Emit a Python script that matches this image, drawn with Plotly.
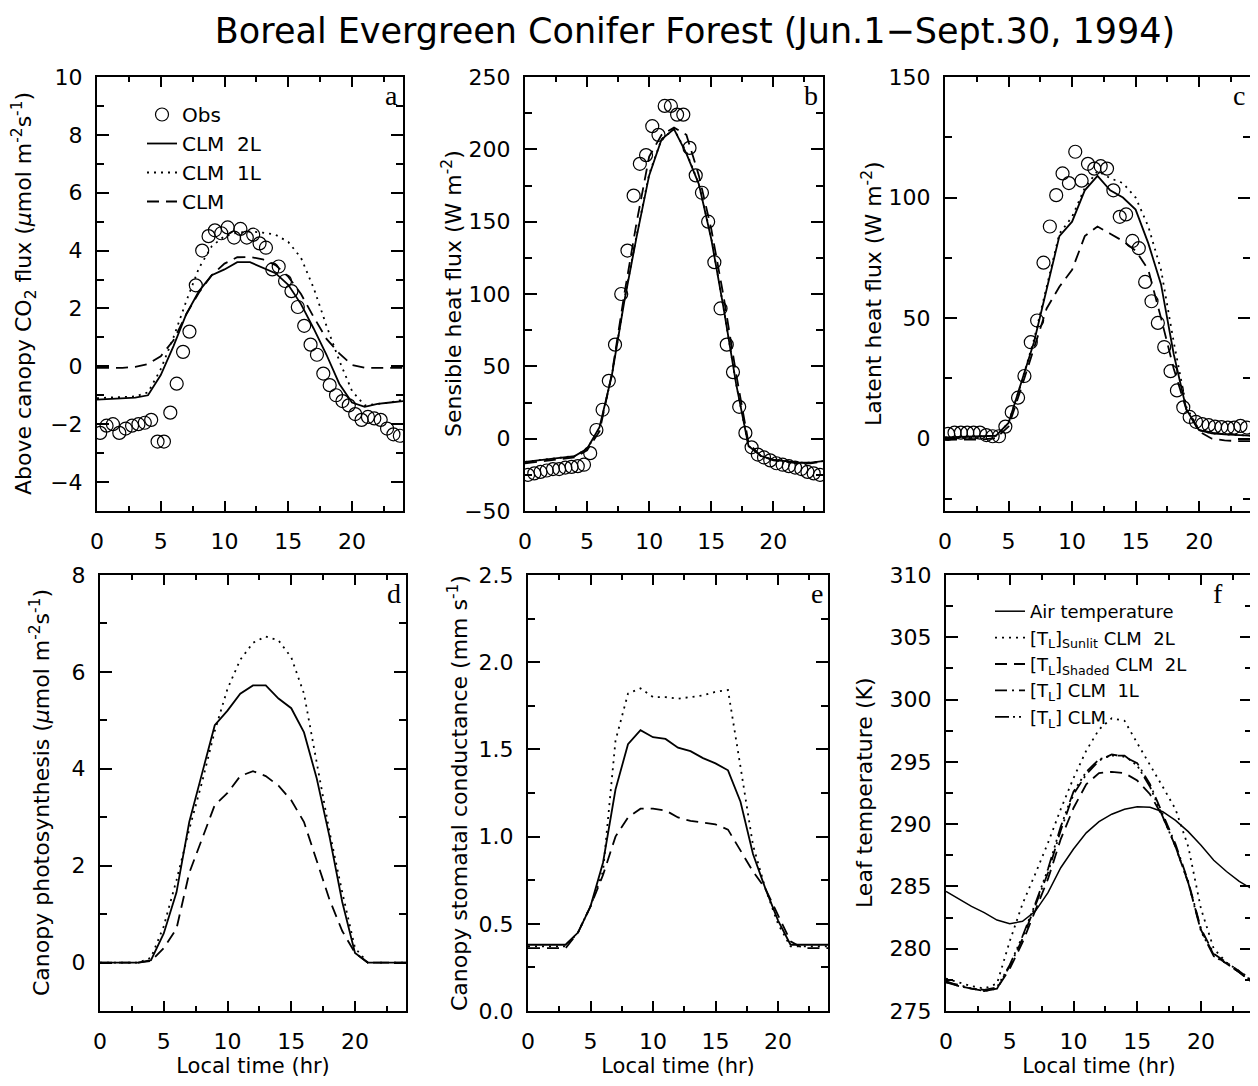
import plotly.graph_objects as go

# ---------------- data ----------------
HOURS = [0, 1, 2, 3, 4, 5, 6, 7, 8, 9, 10, 11, 12, 13, 14, 15, 16, 17, 18, 19, 20, 21, 22, 23, 24]
OBS_TIME = [0.25, 0.75, 1.25, 1.75, 2.25, 2.75, 3.25, 3.75, 4.25, 4.75, 5.25, 5.75,
            6.25, 6.75, 7.25, 7.75, 8.25, 8.75, 9.25, 9.75, 10.25, 10.75, 11.25, 11.75,
            12.25, 12.75, 13.25, 13.75, 14.25, 14.75, 15.25, 15.75, 16.25, 16.75, 17.25, 17.75,
            18.25, 18.75, 19.25, 19.75, 20.25, 20.75, 21.25, 21.75, 22.25, 22.75, 23.25, 23.75]

# (a) above canopy CO2 flux
co2_obs = [-2.3, -2.05, -2.0, -2.3, -2.15, -2.05, -2.0, -1.95, -1.85, -2.6, -2.6, -1.6,
           -0.6, 0.5, 1.2, 2.8, 4.0, 4.5, 4.7, 4.6, 4.8, 4.45, 4.75, 4.45,
           4.55, 4.25, 4.1, 3.35, 3.45, 2.95, 2.6, 2.05, 1.4, 0.75, 0.4, -0.25,
           -0.65, -1.0, -1.2, -1.35, -1.65, -1.85, -1.75, -1.8, -1.85, -2.15, -2.35, -2.4]
co2_clm2l = [-1.15, -1.12, -1.1, -1.08, -1.0, -0.3, 0.7, 1.8, 2.6, 3.15, 3.35, 3.6, 3.6,
             3.42, 3.22, 2.82, 2.15, 1.3, 0.4, -0.6, -1.25, -1.4, -1.3, -1.25, -1.2]
co2_clm1l = [-1.1, -1.08, -1.06, -1.04, -0.9, -0.1, 1.0, 2.25, 3.4, 4.15, 4.5, 4.62, 4.66,
             4.62, 4.55, 4.3, 3.75, 2.7, 1.4, 0.2, -0.85, -1.35, -1.3, -1.25, -1.15]
co2_clm = [-0.05, -0.05, -0.05, -0.02, 0.08, 0.35, 0.9, 1.8, 2.55, 3.15, 3.55, 3.77, 3.78,
           3.7, 3.5, 3.1, 2.5, 1.7, 0.95, 0.45, 0.05, -0.05, -0.05, -0.05, -0.05]

# (b) sensible heat flux
sh_obs = [-25, -24, -23, -22, -21, -21, -20, -19.5, -19, -18, -10, 6,
          20, 40, 65, 100, 130, 168, 190, 196, 216, 210, 230, 230,
          224, 224, 201, 182, 170, 150, 122, 90, 65, 46, 22, 4,
          -6, -11, -13, -15, -17, -18, -19, -20, -21, -23, -24, -25]
sh_clm2l = [-16, -15, -14, -13, -12, -7, 8, 44, 95, 140, 182, 207, 214,
            197, 176, 138, 90, 38, -5, -12, -14.5, -15.5, -16.5, -16.5, -15.5]
sh_clm1l = [-16, -15, -14, -13, -12, -7, 7, 44, 96, 141, 183, 207, 214,
            198, 176, 139, 90, 38, -5, -12, -14.5, -15.5, -16.5, -16.5, -15.5]
sh_clm = [-17, -16, -15, -14, -13, -8, 5, 45, 100, 150, 195, 210, 215,
          210, 182, 145, 98, 45, -3, -12, -15, -16, -17, -17, -16]

# (c) latent heat flux
lh_obs = [2, 2.5, 2.5, 2.5, 2.5, 2.5, 1.5, 1, 1, 5, 11, 17,
          26, 40, 49, 73, 88, 101, 110, 106, 119, 107, 114, 112,
          113, 112, 103, 92, 93, 82, 79, 65, 57, 48, 38, 28,
          20, 13, 9, 7, 6, 5.6, 5, 4.8, 4.6, 4.6, 5.3, 4.6]
lh_clm2l = [0.5, 0.7, 0.8, 0.9, 1.2, 6.5, 23, 40, 62, 84, 90, 103, 109,
            103, 100, 95, 81, 64, 35, 12, 3.5, 2.2, 1.8, 1.5, 1.3]
lh_clm1l = [0.5, 0.7, 0.8, 0.9, 1.2, 6.5, 23, 41, 63, 85, 92, 104, 111,
            108, 106, 100, 88, 70, 40, 13, 3.5, 2.2, 1.8, 1.5, 1.3]
lh_clm = [-0.5, -0.5, -0.5, -0.3, 0.2, 5, 21, 38, 54, 63, 70, 84, 88,
          85, 82, 78, 70, 50, 29, 12, 3, 0, -0.7, -1, -1]

# (d) canopy photosynthesis
ps_clm2l = [0, 0, 0, 0, 0.05, 0.6, 1.45, 2.9, 3.9, 4.9, 5.2, 5.55, 5.72,
            5.72, 5.45, 5.25, 4.75, 3.8, 2.6, 1.25, 0.2, 0, 0, 0, 0]
ps_clm1l = [0, 0, 0, 0, 0.1, 0.75, 1.7, 2.75, 3.72, 4.78, 5.65, 6.25, 6.6,
            6.73, 6.65, 6.3, 5.55, 4.15, 2.7, 1.45, 0.3, 0, 0, 0, 0]
ps_clm = [0, 0, 0, 0, 0.03, 0.3, 0.7, 1.85, 2.55, 3.25, 3.5, 3.85, 3.95,
          3.85, 3.65, 3.35, 2.9, 2.1, 1.3, 0.65, 0.2, 0, 0, 0, 0]

# (e) canopy stomatal conductance
gs_clm2l = [0.38, 0.38, 0.38, 0.38, 0.45, 0.6, 0.85, 1.27, 1.53, 1.61, 1.57, 1.56, 1.51,
            1.49, 1.45, 1.42, 1.38, 1.2, 0.9, 0.7, 0.52, 0.38, 0.38, 0.38, 0.38]
gs_clm1l = [0.37, 0.37, 0.37, 0.37, 0.45, 0.6, 0.8, 1.55, 1.82, 1.85, 1.8, 1.8, 1.79,
            1.8, 1.81, 1.83, 1.84, 1.4, 0.95, 0.7, 0.5, 0.37, 0.37, 0.37, 0.37]
gs_clm = [0.36, 0.36, 0.36, 0.36, 0.45, 0.6, 0.78, 1.0, 1.11, 1.16, 1.16, 1.15, 1.11,
          1.09, 1.08, 1.07, 1.04, 0.92, 0.8, 0.7, 0.55, 0.4, 0.36, 0.36, 0.36]

# (f) leaf / air temperature
t_air = [284.6, 284.0, 283.4, 282.9, 282.3, 282.0, 282.2, 283.0, 284.5, 286.5, 288.0, 289.3, 290.2,
         290.8, 291.2, 291.4, 291.35, 291.0, 290.3, 289.4, 288.3, 287.1, 286.2, 285.4, 284.8]
t_sunlit = [277.6, 277.3, 277.0, 276.8, 277.2, 280.6, 283.6, 286.0, 288.5, 291.2, 293.7, 295.9, 297.6,
            298.5, 298.3, 296.5, 294.8, 293.0, 291.2, 288.2, 283.2, 280.0, 278.9, 278.2, 277.5]
t_shaded = [277.3, 277.0, 276.8, 276.6, 276.8, 278.4, 280.5, 283.0, 285.6, 288.8, 291.3, 293.2, 294.1,
            294.2, 294.1, 293.5, 292.4, 290.6, 288.2, 285.3, 281.5, 279.5, 278.8, 278.1, 277.3]
t_clm1l = [277.3, 277.1, 276.8, 276.6, 276.8, 278.6, 280.8, 283.4, 286.1, 289.5, 292.4, 294.0, 295.1,
           295.6, 295.4, 294.9, 293.2, 290.8, 288.4, 285.4, 281.6, 279.6, 278.9, 278.2, 277.4]
t_clm = [277.4, 277.0, 276.8, 276.7, 276.9, 278.7, 281.0, 283.6, 286.4, 289.8, 292.6, 294.2, 295.2,
         295.5, 295.5, 294.7, 293.0, 290.6, 288.2, 285.3, 281.4, 279.4, 278.8, 278.1, 277.3]

# ---------------- layout geometry (pixels of the page) ----------------
OFF = 8                      # page margin around the figure
W, H = 1258 - OFF, 1086 - OFF
FONT = "DejaVu Sans"


def fx(px):
    return (px - OFF) / W


def fy(py):
    return 1 - (py - OFF) / H


px_x = {1: (97, 403), 2: (525, 823), 3: (945, 1250), 4: (100, 406), 5: (528, 828), 6: (946, 1252)}
px_y = {1: (77, 511), 2: (77, 511), 3: (77, 511), 4: (575, 1011), 5: (575, 1011), 6: (575, 1011)}
ytitle_x = {1: 24, 2: 452, 3: 872, 4: 40, 5: 458, 6: 864}

DOT = "2px,5px"
DASH = "12px,7px"
DASHDOT = "12px,5px,2px,5px"
DASH3DOT = "14px,4px,2px,4px,2px,4px,2px,4px"

fig = go.Figure()


def line(i, y, dash, name=None, legend=None, width=1.8):
    fig.add_trace(go.Scatter(
        x=HOURS, y=y, mode="lines", name=name,
        line=dict(color="black", width=width, dash=dash),
        xaxis="x" if i == 1 else f"x{i}", yaxis="y" if i == 1 else f"y{i}",
        showlegend=name is not None, legend=legend, hoverinfo="skip"))


def obs(i, y, name=None, legend=None):
    fig.add_trace(go.Scatter(
        x=OBS_TIME, y=y, mode="markers", name=name,
        marker=dict(symbol="circle-open", size=13, color="black", line=dict(width=1.2, color="black")),
        xaxis="x" if i == 1 else f"x{i}", yaxis="y" if i == 1 else f"y{i}",
        showlegend=name is not None, legend=legend, hoverinfo="skip"))


# panel a (with legend)
obs(1, co2_obs, "Obs", "legend")
line(1, co2_clm2l, "solid", "CLM  2L", "legend")
line(1, co2_clm1l, DOT, "CLM  1L", "legend")
line(1, co2_clm, DASH, "CLM", "legend")
# panel b
obs(2, sh_obs)
line(2, sh_clm1l, DOT)
line(2, sh_clm, DASH)
line(2, sh_clm2l, "solid")
# panel c
obs(3, lh_obs)
line(3, lh_clm1l, DOT)
line(3, lh_clm, DASH)
line(3, lh_clm2l, "solid")
# panel d
line(4, ps_clm2l, "solid")
line(4, ps_clm1l, DOT)
line(4, ps_clm, DASH)
# panel e
line(5, gs_clm2l, "solid")
line(5, gs_clm1l, DOT)
line(5, gs_clm, DASH)
# panel f (with legend)
line(6, t_air, "solid", "Air temperature", "legend2", width=1.5)
line(6, t_sunlit, DOT, "[T<sub>L</sub>]<sub>Sunlit</sub> CLM  2L", "legend2")
line(6, t_shaded, DASH, "[T<sub>L</sub>]<sub>Shaded</sub> CLM  2L", "legend2")
line(6, t_clm1l, DASHDOT, "[T<sub>L</sub>] CLM  1L", "legend2")
line(6, t_clm, DASH3DOT, "[T<sub>L</sub>] CLM", "legend2")

y_titles = {
    1: "Above canopy CO<sub>2</sub> flux (<i>μ</i>mol m<sup>-2</sup>s<sup>-1</sup>)",
    2: "Sensible heat flux (W m<sup>-2</sup>)",
    3: "Latent heat flux (W m<sup>-2</sup>)",
    4: "Canopy photosynthesis (<i>μ</i>mol m<sup>-2</sup>s<sup>-1</sup>)",
    5: "Canopy stomatal conductance (mm s<sup>-1</sup>)",
    6: "Leaf temperature (K)",
}
y_ranges = {1: [-5, 10], 2: [-50, 250], 3: [-30, 150], 4: [-1, 8], 5: [0, 2.5], 6: [275, 310]}
y_dtick = {1: 2, 2: 50, 3: 50, 4: 2, 5: 0.5, 6: 5}
y_minor = {1: 1, 2: 25, 3: 25, 4: 1, 5: 0.25, 6: 2.5}
letters = {1: "a", 2: "b", 3: "c", 4: "d", 5: "e", 6: "f"}

tickfont = dict(family=FONT, size=22, color="black")
layout = dict(
    width=W, height=H,
    margin=dict(l=0, r=0, t=0, b=0, autoexpand=False),
    paper_bgcolor="white", plot_bgcolor="white",
    font=dict(family=FONT, size=22, color="black"),
    title=dict(text="Boreal Evergreen Conifer Forest (Jun.1−Sept.30, 1994)",
               x=fx(695), y=fy(31), xanchor="center", yanchor="middle",
               font=dict(family=FONT, size=35, color="black")),
    legend=dict(x=fx(142), y=fy(95), xanchor="left", yanchor="top",
                bgcolor="rgba(0,0,0,0)", font=dict(family=FONT, size=20),
                tracegroupgap=0, itemwidth=30),
    legend2=dict(x=fx(990), y=fy(593), xanchor="left", yanchor="top",
                 bgcolor="rgba(0,0,0,0)", font=dict(family=FONT, size=18),
                 tracegroupgap=0, itemwidth=30),
    annotations=[],
)

for i in range(1, 7):
    xs = "xaxis" if i == 1 else f"xaxis{i}"
    ys = "yaxis" if i == 1 else f"yaxis{i}"
    xa = "x" if i == 1 else f"x{i}"
    ya = "y" if i == 1 else f"y{i}"
    x0, x1 = px_x[i]
    yt, yb = px_y[i]
    xaxis = dict(
        domain=[fx(x0), fx(x1)], anchor=ya, range=[0, 24], automargin=False,
        tick0=0, dtick=5, ticks="inside", ticklen=10, tickwidth=1.5, tickcolor="black",
        minor=dict(dtick=2.5, tick0=0, ticks="inside", ticklen=5, tickwidth=1.5, tickcolor="black"),
        showline=True, linewidth=2, linecolor="black", mirror="ticks",
        showgrid=False, zeroline=False, tickfont=tickfont, ticklabelstandoff=10,
    )
    if i >= 4:
        xaxis["title"] = dict(text="Local time (hr)", font=dict(family=FONT, size=21), standoff=2)
    layout[xs] = xaxis
    layout[ys] = dict(
        domain=[fy(yb), fy(yt)], anchor=xa, range=y_ranges[i], automargin=False,
        tick0=0, dtick=y_dtick[i], ticks="inside", ticklen=12, tickwidth=1.5, tickcolor="black",
        minor=dict(dtick=y_minor[i], ticks="inside", ticklen=7, tickwidth=1.5, tickcolor="black"),
        showline=True, linewidth=2, linecolor="black", mirror="ticks",
        showgrid=False, zeroline=False, tickfont=tickfont, ticklabelstandoff=8,
        tickformat=".1f" if i == 5 else None,
    )
    # y-axis title as rotated text beside the axis
    layout["annotations"].append(dict(
        text=y_titles[i], xref="paper", yref=f"{ya} domain",
        x=fx(ytitle_x[i]), y=0.5, xanchor="center", yanchor="middle", textangle=-90,
        showarrow=False, font=dict(family=FONT, size=22, color="black")))
    layout["annotations"].append(dict(
        text=letters[i], xref=f"{xa} domain", yref=f"{ya} domain",
        x=1, y=1, xanchor="right", yanchor="top", showarrow=False,
        xshift=-27 if i == 6 else -3, yshift=-1,
        font=dict(family="Liberation Serif", size=28, color="black")))

fig.update_layout(**layout)
fig.write_html("out.html")
